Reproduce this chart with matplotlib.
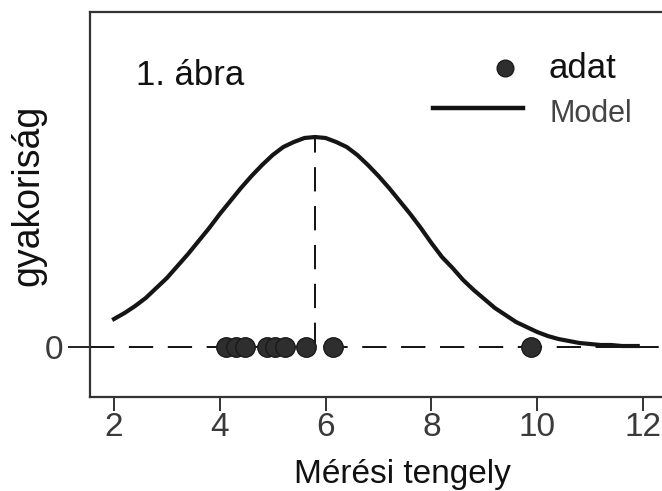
import matplotlib
matplotlib.use("Agg")
import matplotlib.pyplot as plt
from matplotlib.lines import Line2D

plt.rcParams['font.family'] = ['Liberation Sans', 'DejaVu Sans']

# ---- data ----
model_x = [2.0, 2.2, 2.4, 2.6, 2.8, 3.0, 3.2, 3.4, 3.6, 3.8,
           4.0, 4.2, 4.4, 4.6, 4.8, 5.0, 5.2, 5.4, 5.6, 5.8,
           6.0, 6.2, 6.4, 6.6, 6.8, 7.0, 7.2, 7.4, 7.6, 7.8,
           8.0, 8.2, 8.4, 8.6, 8.8, 9.0, 9.2, 9.4, 9.6, 9.8,
           10.0, 10.2, 10.4, 10.6, 10.8, 11.0, 11.2, 11.4, 11.6, 11.8, 11.9]
model_y = [0.028, 0.034, 0.041, 0.049, 0.059, 0.069, 0.081, 0.093, 0.106, 0.119,
           0.133, 0.146, 0.159, 0.171, 0.182, 0.192, 0.200, 0.205, 0.209, 0.210,
           0.209, 0.205, 0.200, 0.192, 0.182, 0.171, 0.159, 0.146, 0.133, 0.119,
           0.104, 0.090, 0.079, 0.067, 0.057, 0.048, 0.039, 0.032, 0.025, 0.020,
           0.015, 0.011, 0.008, 0.006, 0.004, 0.003, 0.002, 0.002, 0.001, 0.001, 0.001]
data_x = [4.12, 4.30, 4.48, 4.89, 5.05, 5.23, 5.63, 6.14, 9.88]
peak_x = 5.80
peak_y = 0.210
xticks = [2, 4, 6, 8, 10, 12]
yticks = [0]
ytick_labels = ["0"]

W, H = 662, 491
fig = plt.figure(figsize=(W / 100, H / 100), dpi=100)
fig.patch.set_facecolor('white')

ppu = 52.9
axw_px = W - 90
xmin = 2 - (114 - 90) / ppu
xmax = xmin + axw_px / ppu
ax = fig.add_axes([90 / W, 1 - 397 / H, axw_px / W, (397 - 12) / H])
ax.set_xlim(xmin, xmax)
ax.set_ylim(-0.050, 0.335)

for s in ax.spines.values():
    s.set_color('#333333')
    s.set_linewidth(1.6)
ax.spines['right'].set_visible(False)

ax.set_xticks(xticks)
ax.set_xticklabels([str(t) for t in xticks])
ax.set_yticks(yticks)
ax.set_yticklabels(ytick_labels)
ax.tick_params(axis='x', length=10, width=1.4, color='#333333', pad=1,
               labelsize=24, labelcolor='#3a3a3a')
ax.tick_params(axis='y', length=16, width=1.4, color='#222222', pad=3,
               labelsize=24, labelcolor='#3a3a3a')

# zero dashed line
lw_d = 1.4
ax.axhline(0, color='#111111', lw=lw_d, dashes=(17.5 / lw_d, 10.5 / lw_d), zorder=1)
# vertical dashed line to the peak
ax.plot([peak_x, peak_x], [0, peak_y], color='#111111', lw=lw_d,
        dashes=(17.5 / lw_d, 10.5 / lw_d), zorder=1)

# model curve
ax.plot(model_x, model_y, color='#151515', lw=3.0, solid_joinstyle='round', zorder=3)

# data points
ax.plot(data_x, [0] * len(data_x), 'o', ms=14, color='#2e2e2e', mec='#1a1a1a',
        mew=1.0, zorder=4)

ax.set_xlabel('Mérési tengely', fontsize=24, color='#111111')
ax.xaxis.set_label_coords((402 - 90) / axw_px, (397 - 490) / 385)
ax.xaxis.label.set_va('bottom')
ax.set_ylabel('gyakoriság', fontsize=27, color='#111111')
ax.yaxis.set_label_coords((28 - 90) / axw_px, (397 - 195) / 385)
ax.yaxis.label.set_va('center')

ax.text((136 - 90) / axw_px, (397 - 85) / 385, '1. ábra',
        transform=ax.transAxes, fontsize=25, color='#111111', va='baseline', ha='left')

# legend (drawn by hand to match placement)
fig.add_artist(Line2D([505 / W], [1 - 68 / H], marker='o', ms=12, color='#2e2e2e',
                      mec='#1a1a1a', transform=fig.transFigure))
fig.text(548 / W, 1 - 78 / H, 'adat', fontsize=25, color='#111111', va='baseline')
fig.add_artist(Line2D([433 / W, 523 / W], [1 - 108 / H, 1 - 108 / H], lw=3.2,
                      color='#111111', transform=fig.transFigure))
fig.text(550 / W, 1 - 122 / H, 'Model', fontsize=22, color='#444444', va='baseline')

fig.savefig('out.png', dpi=100, facecolor='white')
